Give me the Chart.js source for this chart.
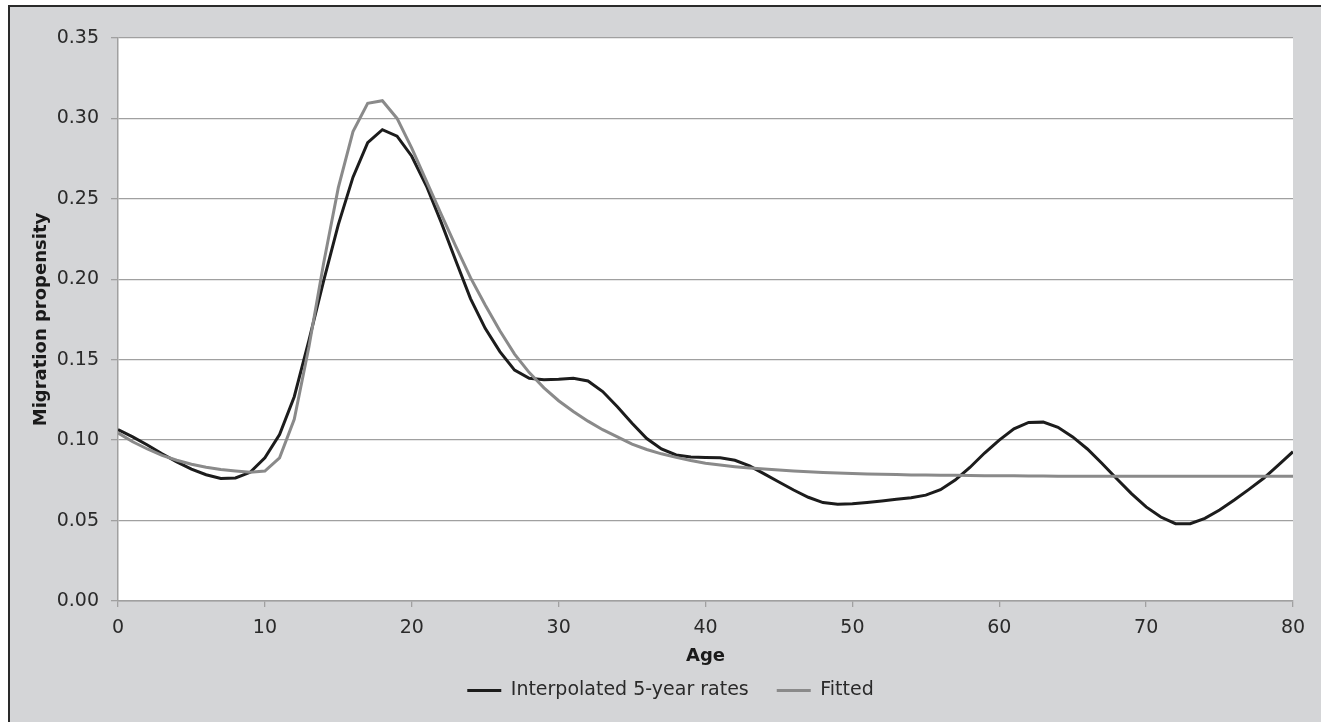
<!DOCTYPE html>
<html>
<head>
<meta charset="utf-8">
<title>Migration propensity by age</title>
<script src="https://cdn.jsdelivr.net/npm/chart.js@4.4.1/dist/chart.umd.min.js"></script>
<style>
    html, body { margin: 0; padding: 0; width: 1321px; height: 722px; overflow: hidden; background: #fff; }
    #frame {
        position: absolute; left: 8px; top: 5px; width: 1330px; height: 730px;
        background: #d4d5d7; border-left: 2px solid #2a2a2a; border-top: 2px solid #2a2a2a;
    }
    #wrap { position: absolute; left: 0; top: 0; width: 1321px; height: 722px; }
</style>
</head>
<body>
<div id="frame"></div>
<div id="wrap"><canvas id="chart"></canvas></div>
<script>
const ages = [
    0, 1, 2, 3, 4, 5, 6, 7, 8, 9, 10, 11, 12, 13, 14, 15, 16, 17, 18, 19, 20,
    21, 22, 23, 24, 25, 26, 27, 28, 29, 30, 31, 32, 33, 34, 35, 36, 37, 38, 39, 40,
    41, 42, 43, 44, 45, 46, 47, 48, 49, 50, 51, 52, 53, 54, 55, 56, 57, 58, 59, 60,
    61, 62, 63, 64, 65, 66, 67, 68, 69, 70, 71, 72, 73, 74, 75, 76, 77, 78, 79, 80
];

const interpolated = [
    0.1065, 0.1020, 0.0970, 0.0915, 0.0865, 0.0820, 0.0785, 0.0762, 0.0765, 0.0800, 0.0890,
    0.1035, 0.1270, 0.1620, 0.1990, 0.2340, 0.2635, 0.2850, 0.2930, 0.2890, 0.2765,
    0.2580, 0.2355, 0.2115, 0.1880, 0.1695, 0.1550, 0.1435, 0.1385, 0.1375, 0.1378,
    0.1385, 0.1368, 0.1302, 0.1208, 0.1105, 0.1010, 0.0945, 0.0908, 0.0895, 0.0892,
    0.0890, 0.0875, 0.0840, 0.0790, 0.0740, 0.0690, 0.0645, 0.0612, 0.0602, 0.0604,
    0.0612, 0.0622, 0.0632, 0.0642, 0.0658, 0.0692, 0.0752, 0.0830, 0.0920, 0.1000,
    0.1070, 0.1110, 0.1112, 0.1080, 0.1020, 0.0945, 0.0855, 0.0760, 0.0668, 0.0585,
    0.0522, 0.0481, 0.0481, 0.0514, 0.0566, 0.0628, 0.0694, 0.0763, 0.0845, 0.0928
];

const fitted = [
    0.1045, 0.0990, 0.0945, 0.0905, 0.0875, 0.0850, 0.0832, 0.0818, 0.0808, 0.0800, 0.0808,
    0.0890, 0.1130, 0.1580, 0.2100, 0.2570, 0.2918, 0.3094, 0.3110, 0.3000, 0.2816,
    0.2610, 0.2405, 0.2205, 0.2010, 0.1840, 0.1680, 0.1535, 0.1420, 0.1325, 0.1245,
    0.1178, 0.1118, 0.1065, 0.1020, 0.0975, 0.0942, 0.0915, 0.0893, 0.0873, 0.0857,
    0.0845, 0.0835, 0.0827, 0.0820, 0.0814, 0.0808, 0.0803, 0.0799, 0.0796, 0.0793,
    0.0790, 0.0788, 0.0786, 0.0784, 0.0783, 0.0782, 0.0781, 0.0780, 0.0779, 0.0778,
    0.0778, 0.0777, 0.0777, 0.0776, 0.0776, 0.0776, 0.0775, 0.0775, 0.0775, 0.0775,
    0.0775, 0.0775, 0.0775, 0.0775, 0.0775, 0.0775, 0.0775, 0.0775, 0.0775, 0.0775
];

const xTitle = 'Age';
const yTitle = 'Migration propensity';
const seriesNames = ['Interpolated 5-year rates', 'Fitted'];

function toPoints(values) {
    return ages.map((a, i) => ({ x: a, y: values[i] }));
}

// white plot area on the grey frame
const plotBackground = {
    id: 'plotBackground',
    beforeDraw(chart) {
        const { ctx, chartArea } = chart;
        ctx.save();
        ctx.fillStyle = '#ffffff';
        ctx.fillRect(chartArea.left, chartArea.top, chartArea.right - chartArea.left, chartArea.bottom - chartArea.top);
        ctx.restore();
    }
};

// nudge the legend a little to the right, like the original
const legendNudge = {
    id: 'legendNudge',
    afterLayout(chart) {
        chart.legend.left += 19;
        chart.legend.right += 19;
    }
};

const fontFamily = '"DejaVu Sans", Verdana, sans-serif';

new Chart(document.getElementById('chart').getContext('2d'), {
    type: 'line',
    data: {
        datasets: [{
            label: seriesNames[0],
            data: toPoints(interpolated),
            borderColor: '#1c1c1c',
            backgroundColor: '#1c1c1c',
            borderWidth: 3,
            pointRadius: 0,
            tension: 0,
            order: 2
        }, {
            label: seriesNames[1],
            data: toPoints(fitted),
            borderColor: '#8a8a8a',
            backgroundColor: '#8a8a8a',
            borderWidth: 3,
            pointRadius: 0,
            tension: 0,
            order: 1
        }]
    },
    options: {
        responsive: true,
        maintainAspectRatio: false,
        animation: false,
        layout: { padding: { left: 10, top: 38, right: 28, bottom: 12 } },
        plugins: {
            tooltip: { enabled: false },
            legend: {
                position: 'bottom',
                labels: {
                    usePointStyle: true,
                    pointStyle: 'line',
                    pointStyleWidth: 34,
                    padding: 28,
                    color: '#2a2a2a',
                    font: { family: fontFamily, size: 19 },
                    sort: (a, b) => a.datasetIndex - b.datasetIndex
                }
            }
        },
        scales: {
            x: {
                type: 'linear',
                min: 0,
                max: 80,
                afterFit(scale) { scale.height = 52; },
                ticks: {
                    stepSize: 10,
                    padding: 10,
                    color: '#2a2a2a',
                    font: { family: fontFamily, size: 19 }
                },
                grid: {
                    drawOnChartArea: false,
                    drawTicks: true,
                    tickLength: 6,
                    color: '#a0a0a0',
                    lineWidth: 1.3
                },
                border: { color: '#a0a0a0', width: 1.5 },
                title: {
                    display: true,
                    text: xTitle,
                    color: '#1a1a1a',
                    padding: { top: 0, bottom: -14 },
                    font: { family: fontFamily, size: 18, weight: 'bold' }
                }
            },
            y: {
                min: 0,
                max: 0.35,
                afterFit(scale) { scale.width = 108; },
                ticks: {
                    stepSize: 0.05,
                    padding: 12,
                    color: '#2a2a2a',
                    font: { family: fontFamily, size: 19 },
                    callback: (v) => v.toFixed(2)
                },
                grid: {
                    color: '#a0a0a0',
                    lineWidth: 1.3,
                    tickLength: 7
                },
                border: { color: '#a0a0a0', width: 1.5 },
                title: {
                    display: true,
                    text: yTitle,
                    color: '#1a1a1a',
                    padding: { top: 21, bottom: 0 },
                    font: { family: fontFamily, size: 18, weight: 'bold' }
                }
            }
        }
    },
    plugins: [plotBackground, legendNudge]
});
</script>
</body>
</html>
